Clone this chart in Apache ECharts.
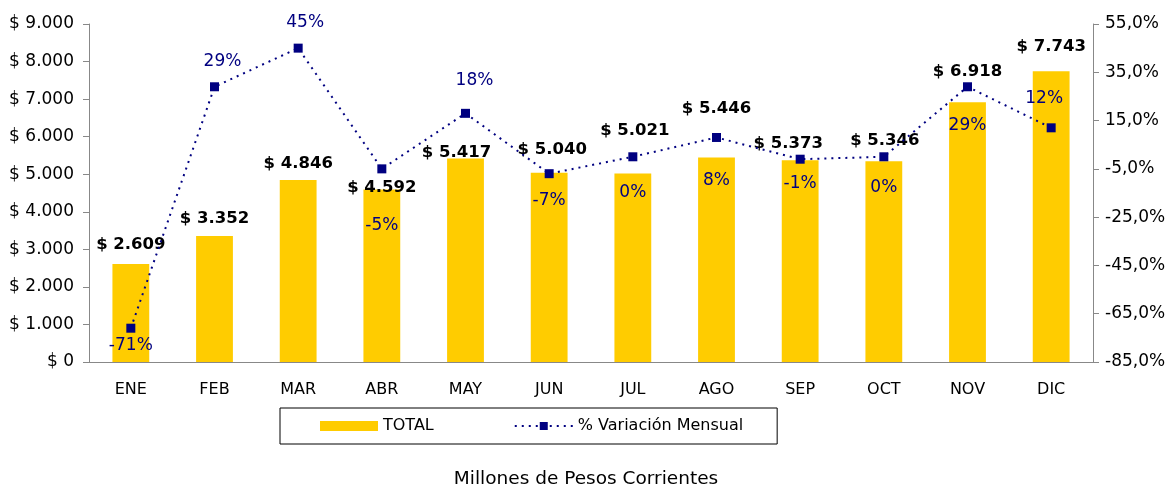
<!DOCTYPE html>
<html>
<head>
<meta charset="UTF-8" />
<title>Total mensual</title>
<script src="https://cdn.jsdelivr.net/npm/echarts@6/dist/echarts.min.js"></script>
<style>
  html, body { margin: 0; padding: 0; background: #fff; }
  #container { width: 1172px; height: 489px; }
</style>
</head>
<body>
<div id="container"></div>
<script type="text/javascript">
// datos
var meses = ['ENE', 'FEB', 'MAR', 'ABR', 'MAY', 'JUN', 'JUL', 'AGO', 'SEP', 'OCT', 'NOV', 'DIC'];
var total = [2609, 3352, 4846, 4592, 5417, 5040, 5021, 5446, 5373, 5346, 6918, 7743];
var variacion = [-71, 29, 45, -5, 18, -7, 0, 8, -1, 0, 29, 12];

// desplazamiento de etiquetas (como en el original)
var offTotal = [[0, -11], [0, -9], [0, -8], [0, 7], [-9, 3], [3, -15], [2, -34], [0, -40], [-12, -8], [1, -12], [0, -22], [0, -16]];
var offVar = [[0, 17], [8, -25], [7, -26], [0, 57], [9, -33], [0, 27], [0, 36], [0, 43], [0, 24], [0, 31], [0, 39], [-7, -29]];

var fuente = 'DejaVu Sans';
var azul = '#000080';

function miles(v) {
    return String(v).replace(/\B(?=(\d{3})+(?!\d))/g, '.');
}

var barData = [];
var lineData = [];
for (var i = 0; i < meses.length; i++) {
    barData.push({ value: total[i], label: { offset: offTotal[i] } });
    lineData.push({ value: variacion[i], label: { offset: offVar[i] } });
}

var dom = document.getElementById('container');
var myChart = echarts.init(dom);
var option = {
    animation: false,
    textStyle: { fontFamily: fuente },
    title: {
        text: 'Millones de Pesos Corrientes',
        left: 'center',
        top: 465,
        textStyle: { fontFamily: fuente, fontSize: 18.5, fontWeight: 'normal', color: '#000' }
    },
    legend: {
        left: 280,
        top: 408,
        padding: [10, 34, 10, 40],
        itemGap: 80,
        itemWidth: 58,
        itemHeight: 10,
        borderColor: '#000',
        borderWidth: 1,
        textStyle: { fontFamily: fuente, fontSize: 16, color: '#000' },
        data: [{ name: 'TOTAL', icon: 'rect' }, { name: '% Variación Mensual' }]
    },
    grid: { left: 89, right: 79, top: 24, bottom: 127 },
    xAxis: {
        type: 'category',
        data: meses,
        axisLine: { lineStyle: { color: '#888' } },
        axisTick: { lineStyle: { color: '#888' }, length: 6 },
        axisLabel: { color: '#000', fontSize: 16, margin: 20, fontFamily: fuente }
    },
    yAxis: [
        {
            type: 'value',
            min: 0,
            max: 9000,
            interval: 1000,
            splitLine: { show: false },
            axisLine: { show: true, lineStyle: { color: '#888' } },
            axisTick: { show: true, length: 6, lineStyle: { color: '#888' } },
            axisLabel: {
                color: '#000', fontSize: 17, margin: 15, fontFamily: fuente,
                formatter: function (v) { return '$ ' + miles(v); }
            }
        },
        {
            type: 'value',
            min: -85,
            max: 55,
            interval: 20,
            splitLine: { show: false },
            axisLine: { show: true, lineStyle: { color: '#888' } },
            axisTick: { show: true, length: 6, lineStyle: { color: '#888' } },
            axisLabel: {
                color: '#000', fontSize: 17, margin: 12, fontFamily: fuente,
                formatter: function (v) { return v.toFixed(1).replace('.', ',') + '%'; }
            }
        }
    ],
    series: [
        {
            name: 'TOTAL',
            type: 'bar',
            data: barData,
            barWidth: '44%',
            itemStyle: { color: '#FFCC00' },
            label: {
                show: true,
                position: 'top',
                distance: 0,
                color: '#000',
                fontSize: 16.5,
                fontWeight: 'bold',
                fontFamily: fuente,
                formatter: function (p) { return '$ ' + miles(p.value); }
            }
        },
        {
            name: '% Variación Mensual',
            type: 'line',
            yAxisIndex: 1,
            data: lineData,
            symbol: 'rect',
            symbolSize: 9,
            itemStyle: { color: azul },
            lineStyle: { color: azul, width: 2, type: [2, 5] },
            label: {
                show: true,
                position: 'inside',
                color: azul,
                fontSize: 17,
                fontFamily: fuente,
                formatter: function (p) { return p.value + '%'; }
            }
        }
    ]
};
myChart.setOption(option, true);
</script>
</body>
</html>
